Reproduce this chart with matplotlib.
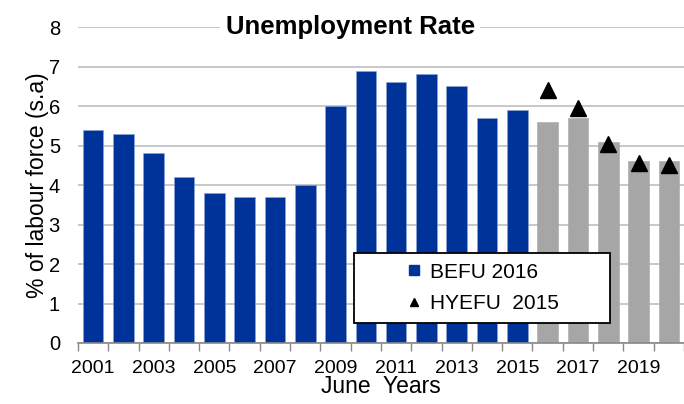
import matplotlib
matplotlib.use("Agg")
import matplotlib.pyplot as plt
import numpy as np
from matplotlib.lines import Line2D
from matplotlib.patches import Rectangle

# ===========================
# DATA
# ===========================
years = list(range(2001, 2021))
befu_2016 = [5.4, 5.3, 4.8, 4.2, 3.8, 3.7, 3.7, 4.0, 6.0, 6.9,
             6.6, 6.8, 6.5, 5.7, 5.9, 5.6, 5.7, 5.1, 4.6, 4.6]
last_actual_year = 2015
hyefu_years = [2016, 2017, 2018, 2019, 2020]
hyefu_2015 = [6.4, 5.95, 5.05, 4.55, 4.5]
label_years = [y for y in years if y % 2 == 1]

BLUE = "#003399"
GREY = "#A6A6A6"
GRID = "#BFBFBF"

plt.rcParams['font.family'] = ['Liberation Sans', 'DejaVu Sans']

fig = plt.figure(figsize=(6.84, 4.04), dpi=100)
ax = fig.add_axes([0.114, 0.151, 0.886, 0.782])

x = np.arange(len(years))
actual = [y <= last_actual_year for y in years]
colors = [BLUE if a else GREY for a in actual]
edges = ["#8fa3d6" if a else GREY for a in actual]
ax.bar(x, befu_2016, width=0.68, color=colors, edgecolor=edges,
       linewidth=0.4, zorder=2)

hx = [years.index(y) for y in hyefu_years]
ax.plot(hx, hyefu_2015, linestyle="none", marker="^", markersize=11,
        color="black", zorder=3)

ax.set_ylim(0, 8)
ax.set_xlim(-0.5, len(years) - 0.5)
ax.set_yticks(range(0, 9))
ax.yaxis.grid(True, color=GRID, linewidth=1.2, zorder=0)
ax.set_axisbelow(True)
ax.tick_params(axis="y", length=0, pad=13, labelsize=14.5)

# tick marks between categories, labels on odd years
ax.set_xticks(np.arange(-0.5, len(years), 1.0))
ax.set_xticklabels([])
ax.tick_params(axis="x", which="major", length=6, width=1, color="#888888",
               direction="out")
ax.set_xticks([years.index(y) for y in label_years], minor=True)
ax.set_xticklabels([str(y) for y in label_years], minor=True)
ax.tick_params(axis="x", which="minor", length=0, pad=12, labelsize=14)

for s in ["left", "right", "top"]:
    ax.spines[s].set_visible(False)
ax.spines["bottom"].set_color("#888888")
ax.spines["bottom"].set_linewidth(1.2)

ax.set_xlabel("June  Years", fontsize=16.5, labelpad=-1)
ax.set_ylabel("% of labour force (s.a)", fontsize=16.5, labelpad=0)

ax.text(0.449, 1.0, "Unemployment Rate", transform=ax.transAxes,
        ha="center", va="center", fontsize=18.5, fontweight="bold",
        bbox=dict(facecolor="white", edgecolor="none", pad=4),
        zorder=5, clip_on=False)

# legend box
ax.add_patch(Rectangle((0.455, 0.063), 0.423, 0.222, transform=ax.transAxes,
                       facecolor="white", edgecolor="black", linewidth=1.3,
                       zorder=4))
handles = [
    Line2D([], [], linestyle="none", marker="s", markersize=7, color=BLUE),
    Line2D([], [], linestyle="none", marker="^", markersize=6, color="black"),
]
leg = ax.legend(handles, ["BEFU 2016", "HYEFU  2015"], loc="center",
                bbox_to_anchor=(0.667, 0.174), frameon=False, fontsize=15,
                handlelength=0.8, handletextpad=0.35, labelspacing=0.6)
leg.set_zorder(6)

fig.savefig("out.png", dpi=100)
